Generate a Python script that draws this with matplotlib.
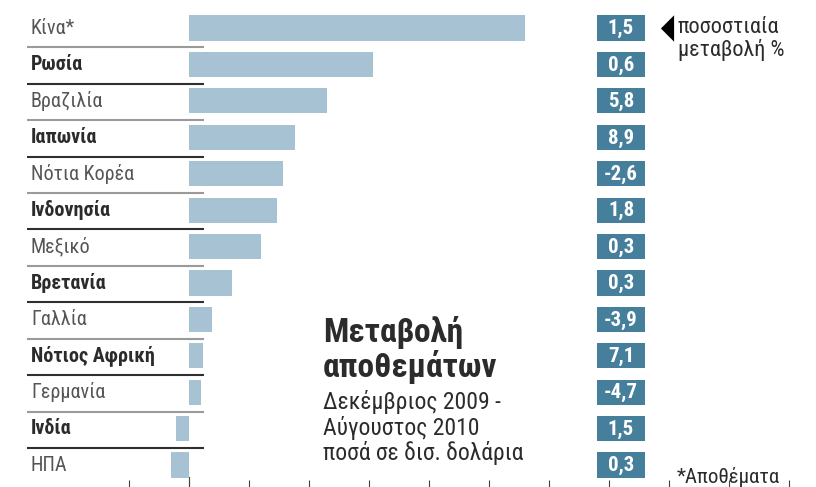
import matplotlib
matplotlib.use("Agg")
import matplotlib.pyplot as plt
from matplotlib import font_manager
from matplotlib.patches import Rectangle

countries = ["Κίνα*", "Ρωσία", "Βραζιλία", "Ιαπωνία", "Νότια Κορέα",
             "Ινδονησία", "Μεξικό", "Βρετανία", "Γαλλία", "Νότιος Αφρική",
             "Γερμανία", "Ινδία", "ΗΠΑ"]
# μεταβολή αποθεμάτων, δισ. δολάρια (εκτίμηση από την εικόνα)
change_bn = [112.2, 61.5, 46.2, 35.5, 31.5, 29.5, 24.2, 14.5, 7.8, 4.8,
             4.2, -4.3, -6.0]
pct_change = ["1,5", "0,6", "5,8", "8,9", "-2,6", "1,8", "0,3", "0,3",
              "-3,9", "7,1", "-4,7", "1,5", "0,3"]
bold_rows = [False, True, False, True, False, True, False, True, False,
             True, False, True, False]
xticks = list(range(-20, 201, 20))

installed = {f.name for f in font_manager.fontManager.ttflist}
for fam in ["Roboto Condensed", "Liberation Sans Narrow", "DejaVu Sans Condensed"]:
    if fam in installed:
        FONT = fam
        break
else:
    FONT = "DejaVu Sans"
plt.rcParams["font.family"] = [FONT, "DejaVu Sans"]

BAR = "#a7c3d3"
BOX = "#467f9b"
DARK = "#2b2b2b"
GRAY = "#555555"

W, H = 816, 487
X0 = 188.5          # pixel of zero
PX_PER_UNIT = 3.0   # 60 px = 20 bn
ROW0, ROWH = 28.0, 36.42
BAR_H = 0.69


def px(x):
    """pixel x -> data x"""
    return (x - X0) / PX_PER_UNIT


fig = plt.figure(figsize=(W / 100, H / 100), dpi=100)
ax = fig.add_axes([0, 0, 1, 1])
ax.set_xlim(px(0), px(W))
ax.set_ylim((H - ROW0) / ROWH, -ROW0 / ROWH)
for s in ax.spines.values():
    s.set_visible(False)
ax.set_yticks([])

n = len(countries)
rows = list(range(n))
ax.barh(rows, change_bn, height=BAR_H, color=BAR, zorder=2)

for i, (name, pct, b) in enumerate(zip(countries, pct_change, bold_rows)):
    ax.text(px(31), i, name, ha="left", va="center", fontsize=14.5,
            fontweight="bold" if b else "normal",
            color=DARK if b else GRAY)
    if i < n - 1:
        ax.plot([px(27), px(204)], [i + 0.53, i + 0.53],
                color="#2f2f2f" if b else "#9a9a9a", lw=1.5,
                solid_capstyle="butt", zorder=1)
    ax.add_patch(Rectangle((px(597), i - BAR_H / 2), 48 / PX_PER_UNIT, BAR_H,
                           fc=BOX, ec="none", zorder=2))
    ax.text(px(621), i + 0.02, pct, ha="center", va="center", fontsize=15,
            fontweight="bold", color="white", zorder=3)

# legend marker for the percentage boxes
ax.plot([px(667)], [0], marker=[(0.5, 1), (0.5, -1), (-0.5, 0), (0.5, 1)],
        markersize=19, color="black", markeredgewidth=0)
ax.text(px(678), -0.02, "ποσοστιαία", ha="left", va="center", fontsize=16,
        color=DARK)
ax.text(px(678), 0.6, "μεταβολή %", ha="left", va="center", fontsize=16,
        color=DARK)

# title block
ax.text(px(323), 8.37, "Μεταβολή", ha="left", va="center", fontsize=24,
        fontweight="bold", color=DARK)
ax.text(px(323), 9.3, "αποθεμάτων", ha="left", va="center", fontsize=24,
        fontweight="bold", color=DARK)
ax.text(px(323), 10.27, "Δεκέμβριος 2009 -", ha="left", va="center",
        fontsize=17, color=DARK)
ax.text(px(323), 10.98, "Αύγουστος 2010", ha="left", va="center",
        fontsize=17, color=DARK)
ax.text(px(323), 11.66, "ποσά σε δισ. δολάρια", ha="left", va="center",
        fontsize=17, color=DARK)
ax.text(px(677), 12.33, "*Αποθέματα", ha="left", va="center", fontsize=15,
        color=DARK)

ax.set_xticks(xticks)
ax.set_xticklabels([])
ax.tick_params(axis="x", direction="in", length=5, width=0.8,
               color="#444444", pad=0)
ax.axvline(0, ymin=0, ymax=0.02, color="#444444", lw=0.8)

fig.savefig("out.png", dpi=100)
